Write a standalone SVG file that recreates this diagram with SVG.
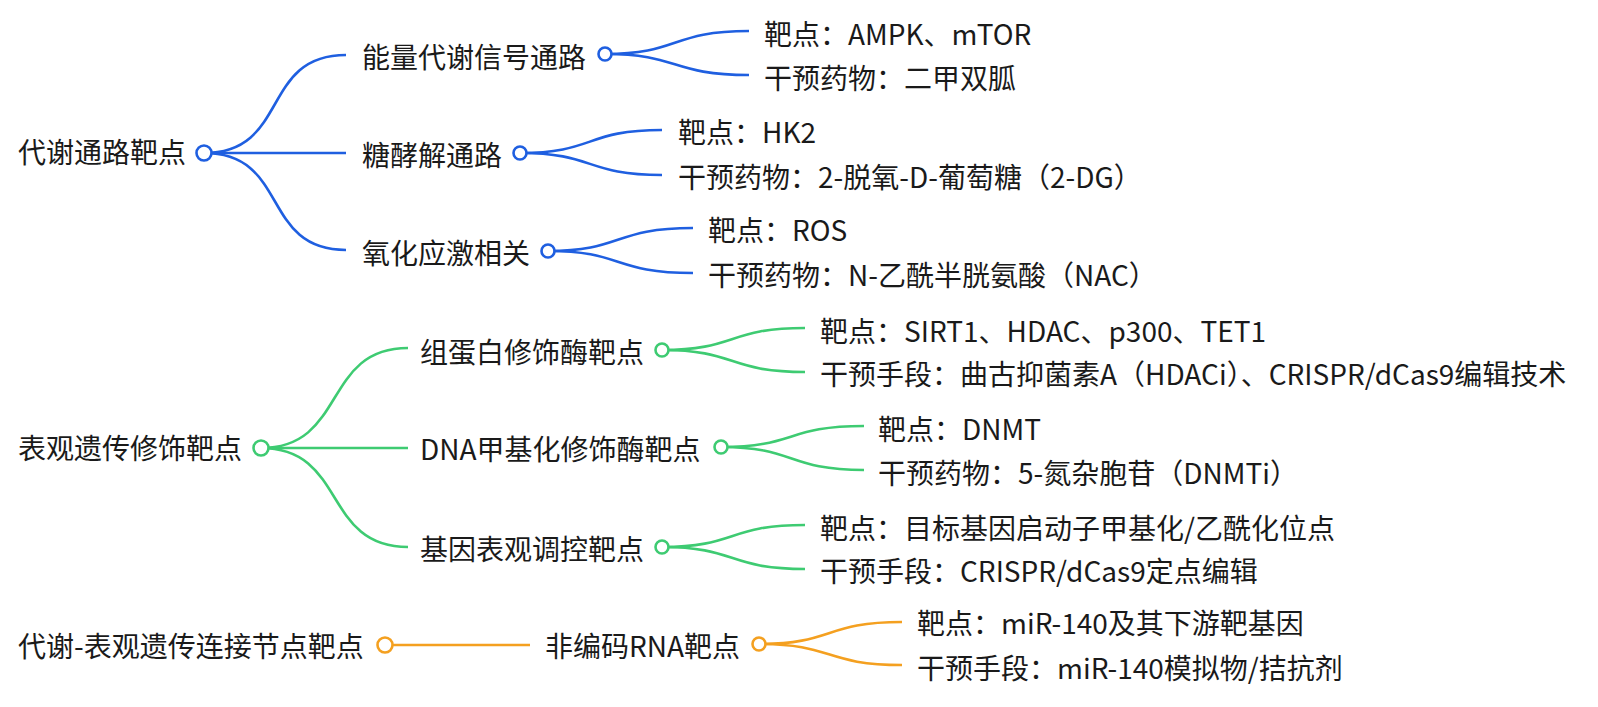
<svg xmlns="http://www.w3.org/2000/svg" width="1598" height="707" viewBox="0 0 1598 707">
<style>
text{font-family:"Noto Sans CJK SC","Noto Sans",sans-serif;font-size:28px;fill:#1a1a1a;dominant-baseline:central}
.b{stroke:#1f5fe0}.g{stroke:#3ecb72}.o{stroke:#f4a020}
path,line{fill:none;stroke-width:2.6}
circle{fill:#fff;stroke-width:2.6}
</style>
<rect width="1598" height="707" fill="#fff"/>
<g id="connectors">
<g class="b">
<path d="M204 153 C290 153 260 55 346 55"/>
<path d="M204 153 L346 153"/>
<path d="M204 153 C290 153 260 250 346 250"/>
<path d="M605 54 C680 54 670 31 749 31"/>
<path d="M605 54 C680 54 670 75 749 75"/>
<path d="M520 153 C595 153 585 130 662 130"/>
<path d="M520 153 C595 153 585 175 662 175"/>
<path d="M548 251 C623 251 613 228 693 228"/>
<path d="M548 251 C623 251 613 273 693 273"/>
</g>
<g class="g">
<path d="M261 448 C347 448 322 348 408 348"/>
<path d="M261 448 L408 448"/>
<path d="M261 448 C347 448 322 547 408 547"/>
<path d="M662 350 C737 350 727 328 805 328"/>
<path d="M662 350 C737 350 727 372 805 372"/>
<path d="M721 447 C796 447 786 426 864 426"/>
<path d="M721 447 C796 447 786 470 864 470"/>
<path d="M662 547 C737 547 727 525 805 525"/>
<path d="M662 547 C737 547 727 569 805 569"/>
</g>
<g class="o">
<path d="M385 645 L530 645"/>
<path d="M759 644 C834 644 824 622 902 622"/>
<path d="M759 644 C834 644 824 665 902 665"/>
</g>
</g>
<g id="n-root1"><text x="18" y="151">代谢通路靶点</text><circle class="b" cx="204" cy="153" r="7.5"/></g>
<g id="n-energy"><text x="362" y="56">能量代谢信号通路</text><circle class="b" cx="605" cy="54" r="6.5"/></g>
<g id="n-energy-t"><text x="764" y="33">靶点：AMPK、mTOR</text></g>
<g id="n-energy-d"><text x="764" y="77">干预药物：二甲双胍</text></g>
<g id="n-glyco"><text x="362" y="154">糖酵解通路</text><circle class="b" cx="520" cy="153" r="6.5"/></g>
<g id="n-glyco-t"><text x="678" y="131">靶点：HK2</text></g>
<g id="n-glyco-d"><text x="678" y="176">干预药物：2-脱氧-D-葡萄糖（2-DG）</text></g>
<g id="n-ox"><text x="362" y="252">氧化应激相关</text><circle class="b" cx="548" cy="251" r="6.5"/></g>
<g id="n-ox-t"><text x="708" y="229">靶点：ROS</text></g>
<g id="n-ox-d"><text x="708" y="274">干预药物：N-乙酰半胱氨酸（NAC）</text></g>

<g id="n-root2"><text x="18" y="447">表观遗传修饰靶点</text><circle class="g" cx="261" cy="448" r="7.5"/></g>
<g id="n-histone"><text x="420" y="351">组蛋白修饰酶靶点</text><circle class="g" cx="662" cy="350" r="6.5"/></g>
<g id="n-histone-t"><text x="820" y="330">靶点：SIRT1、HDAC、p300、TET1</text></g>
<g id="n-histone-d"><text x="820" y="373">干预手段：曲古抑菌素A（HDACi）、CRISPR/dCas9编辑技术</text></g>
<g id="n-dna"><text x="420" y="448">DNA甲基化修饰酶靶点</text><circle class="g" cx="721" cy="447" r="6.5"/></g>
<g id="n-dna-t"><text x="878" y="428">靶点：DNMT</text></g>
<g id="n-dna-d"><text x="878" y="472">干预药物：5-氮杂胞苷（DNMTi）</text></g>
<g id="n-gene"><text x="420" y="548">基因表观调控靶点</text><circle class="g" cx="662" cy="547" r="6.5"/></g>
<g id="n-gene-t"><text x="820" y="527">靶点：目标基因启动子甲基化/乙酰化位点</text></g>
<g id="n-gene-d"><text x="820" y="570">干预手段：CRISPR/dCas9定点编辑</text></g>

<g id="n-root3"><text x="18" y="645">代谢-表观遗传连接节点靶点</text><circle class="o" cx="385" cy="645" r="7.5"/></g>
<g id="n-ncrna"><text x="545" y="645">非编码RNA靶点</text><circle class="o" cx="759" cy="644" r="6.5"/></g>
<g id="n-ncrna-t"><text x="917" y="622">靶点：miR-140及其下游靶基因</text></g>
<g id="n-ncrna-d"><text x="917" y="667">干预手段：miR-140模拟物/拮抗剂</text></g>
</svg>
